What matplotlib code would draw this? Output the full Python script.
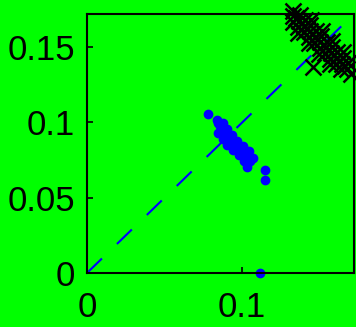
import matplotlib
matplotlib.use('Agg')
import matplotlib.pyplot as plt

# blue cluster (dots)
blue_x = [0.0840, 0.0845, 0.0855, 0.0868, 0.0880, 0.0895, 0.0910, 0.0925, 0.0942, 0.0960,
          0.0980, 0.1000, 0.1020, 0.1035, 0.1050,
          0.0877, 0.0902, 0.0932, 0.0964, 0.1002, 0.1042, 0.1072,
          0.0846, 0.0873, 0.0903, 0.0938, 0.0978, 0.1013,
          0.0781, 0.1032, 0.1148, 0.1148, 0.1116]
blue_y = [0.1015, 0.0995, 0.0975, 0.0955, 0.0935, 0.0912, 0.0892, 0.0872, 0.0853, 0.0837,
          0.0822, 0.0805, 0.0787, 0.0765, 0.0745,
          0.0997, 0.0957, 0.0914, 0.0875, 0.0844, 0.0809, 0.0767,
          0.0933, 0.0890, 0.0850, 0.0815, 0.0783, 0.0743,
          0.1053, 0.0707, 0.0687, 0.0620, 0.0]

# black cluster (crosses)
black_x = [0.1330, 0.1347, 0.1365, 0.1382, 0.1399, 0.1417, 0.1434, 0.1451, 0.1469, 0.1486,
           0.1504, 0.1521, 0.1538, 0.1556, 0.1573, 0.1590, 0.1608, 0.1625, 0.1642, 0.1660, 0.1677,
           0.1369, 0.1404, 0.1439, 0.1473, 0.1508, 0.1543, 0.1578, 0.1612, 0.1647, 0.1682,
           0.1325, 0.1360, 0.1395, 0.1429, 0.1464, 0.1499, 0.1534, 0.1568, 0.1603, 0.1638,
           0.1441, 0.1511, 0.1580, 0.1650,
           0.1357, 0.1427, 0.1496, 0.1566,
           0.1330, 0.1458, 0.1700]
black_y = [0.1710, 0.1692, 0.1675, 0.1657, 0.1639, 0.1622, 0.1604, 0.1586, 0.1568, 0.1551,
           0.1533, 0.1515, 0.1498, 0.1480, 0.1462, 0.1445, 0.1427, 0.1409, 0.1391, 0.1374, 0.1356,
           0.1714, 0.1679, 0.1644, 0.1608, 0.1573, 0.1537, 0.1502, 0.1467, 0.1431, 0.1396,
           0.1670, 0.1635, 0.1600, 0.1564, 0.1529, 0.1493, 0.1458, 0.1423, 0.1387, 0.1352,
           0.1681, 0.1610, 0.1540, 0.1469,
           0.1597, 0.1526, 0.1456, 0.1385,
           0.1740, 0.1367, 0.1320]

lim = 0.172
xticks = [0, 0.1]
xtick_labels = ['0', '0.1']
yticks = [0, 0.05, 0.1, 0.15]
ytick_labels = ['0', '0.05', '0.1', '0.15']

green = '#00ff00'
fig = plt.figure(figsize=(3.56, 3.27), dpi=100, facecolor=green)
ax = fig.add_axes([87/356, 1 - 273/327, 267/356, 259/327])
ax.set_facecolor(green)

ax.plot([0, lim], [0, lim], color='#0000ff', lw=1.5, dashes=(10, 10))
ax.plot(blue_x, blue_y, 'o', color='#0000ff', ms=6, mec='#0000ff', clip_on=False)
ax.plot(black_x, black_y, 'x', color='black', ms=11, mew=1.8, clip_on=False)

ax.set_xlim(0, lim)
ax.set_ylim(0, lim)
ax.set_xticks(xticks)
ax.set_xticklabels(xtick_labels)
ax.set_yticks(yticks)
ax.set_yticklabels(ytick_labels)
ax.tick_params(direction='in', length=4, width=1.2, labelsize=25)
ax.tick_params(axis='x', pad=13)
ax.tick_params(axis='y', pad=8.5)
for lab in ax.get_xticklabels() + ax.get_yticklabels():
    lab.set_family('Liberation Sans')
for s in ax.spines.values():
    s.set_linewidth(1.5)

fig.savefig('out.png', dpi=100, facecolor=green)
